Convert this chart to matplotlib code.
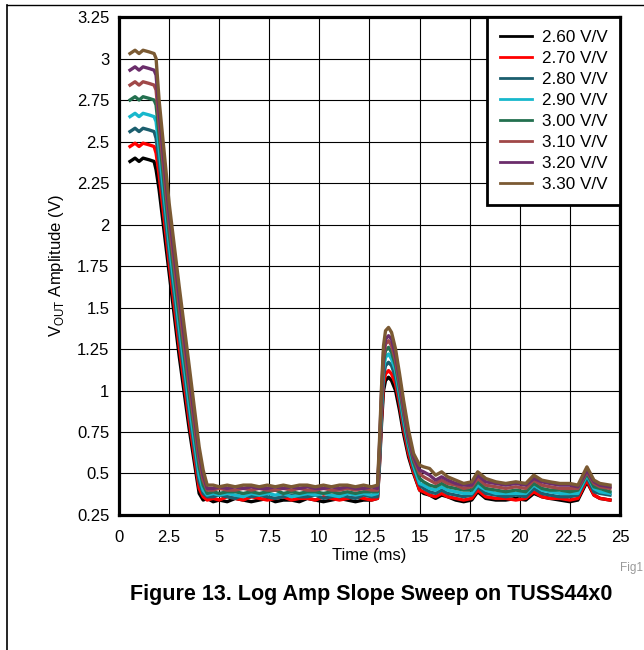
import matplotlib
matplotlib.use('Agg')
import matplotlib.pyplot as plt
from matplotlib.lines import Line2D

plt.rcParams['font.family'] = ['Liberation Sans', 'DejaVu Sans']
plt.rcParams['mathtext.fontset'] = 'custom'
plt.rcParams['mathtext.rm'] = 'Liberation Sans'

# time axis (ms)
time_ms = [0.55, 0.8, 1.0, 1.2, 1.5, 1.75, 1.85,
           2.0, 2.5, 3.0, 3.5, 4.0, 4.2, 4.4,
           4.7, 5.0, 5.4, 5.8, 6.2, 6.6, 7.0, 7.4, 7.8, 8.2, 8.6,
           9.0, 9.4, 9.8, 10.2, 10.6, 11.0, 11.4, 11.8, 12.2, 12.6, 12.9,
           13.0, 13.1, 13.2, 13.3, 13.45, 13.6, 13.8, 14.0, 14.2, 14.45, 14.7, 15.0,
           15.2, 15.5, 15.8, 16.1, 16.4, 16.8, 17.2, 17.6, 17.9, 18.3, 18.8, 19.3,
           19.8, 20.3, 20.7, 21.1, 21.5, 22.0, 22.5, 22.9, 23.35, 23.7, 24.0, 24.5]

labels = ['2.60 V/V', '2.70 V/V', '2.80 V/V', '2.90 V/V',
          '3.00 V/V', '3.10 V/V', '3.20 V/V', '3.30 V/V']
colors = ['#000000', '#FF0000', '#1B5E6E', '#17B8CC',
          '#23704F', '#A04848', '#6B2D6B', '#7B5A33']

v_260 = [2.38, 2.40, 2.38, 2.40, 2.39, 2.38, 2.33,
         2.21, 1.71, 1.21, 0.77, 0.38, 0.34, 0.35,
         0.33, 0.34, 0.33, 0.35, 0.34, 0.33, 0.34, 0.35, 0.33, 0.34, 0.34,
         0.33, 0.35, 0.34, 0.33, 0.34, 0.35, 0.34, 0.33, 0.34, 0.34, 0.35,
         0.55, 0.80, 1.00, 1.06, 1.08, 1.06, 1.00, 0.88, 0.74, 0.60, 0.50, 0.40,
         0.38, 0.37, 0.35, 0.37, 0.36, 0.34, 0.33, 0.34, 0.39, 0.35, 0.34, 0.34,
         0.35, 0.34, 0.38, 0.36, 0.35, 0.34, 0.33, 0.34, 0.45, 0.37, 0.35, 0.34]
v_270 = [2.47, 2.49, 2.47, 2.49, 2.48, 2.47, 2.43,
         2.30, 1.77, 1.27, 0.82, 0.41, 0.36, 0.34,
         0.35, 0.34, 0.36, 0.35, 0.34, 0.36, 0.35, 0.34, 0.35, 0.36, 0.34,
         0.35, 0.35, 0.34, 0.36, 0.35, 0.34, 0.35, 0.36, 0.35, 0.34, 0.35,
         0.57, 0.83, 1.04, 1.10, 1.12, 1.10, 1.04, 0.92, 0.77, 0.62, 0.51, 0.40,
         0.39, 0.37, 0.36, 0.38, 0.36, 0.35, 0.34, 0.35, 0.40, 0.36, 0.35, 0.35,
         0.34, 0.35, 0.39, 0.36, 0.35, 0.35, 0.34, 0.35, 0.46, 0.37, 0.35, 0.34]
v_280 = [2.56, 2.58, 2.56, 2.58, 2.57, 2.56, 2.52,
         2.38, 1.83, 1.33, 0.87, 0.45, 0.38, 0.36,
         0.36, 0.37, 0.36, 0.35, 0.37, 0.36, 0.37, 0.36, 0.35, 0.36, 0.37,
         0.36, 0.36, 0.37, 0.35, 0.36, 0.37, 0.36, 0.35, 0.37, 0.36, 0.36,
         0.59, 0.87, 1.09, 1.15, 1.17, 1.15, 1.08, 0.95, 0.80, 0.65, 0.53, 0.43,
         0.41, 0.39, 0.38, 0.40, 0.38, 0.37, 0.36, 0.37, 0.42, 0.38, 0.37, 0.36,
         0.37, 0.36, 0.41, 0.38, 0.37, 0.36, 0.36, 0.37, 0.48, 0.39, 0.38, 0.37]
v_290 = [2.65, 2.67, 2.65, 2.67, 2.66, 2.65, 2.62,
         2.46, 1.89, 1.39, 0.92, 0.49, 0.40, 0.37,
         0.38, 0.37, 0.38, 0.37, 0.36, 0.38, 0.37, 0.38, 0.37, 0.38, 0.36,
         0.37, 0.38, 0.37, 0.38, 0.37, 0.36, 0.38, 0.37, 0.38, 0.37, 0.38,
         0.61, 0.90, 1.13, 1.20, 1.22, 1.19, 1.12, 0.98, 0.83, 0.67, 0.55, 0.44,
         0.43, 0.41, 0.40, 0.42, 0.40, 0.39, 0.38, 0.38, 0.43, 0.40, 0.38, 0.38,
         0.38, 0.38, 0.43, 0.40, 0.39, 0.38, 0.38, 0.38, 0.49, 0.41, 0.39, 0.38]
v_300 = [2.75, 2.77, 2.75, 2.77, 2.76, 2.75, 2.72,
         2.54, 1.95, 1.45, 0.98, 0.54, 0.43, 0.38,
         0.39, 0.38, 0.39, 0.39, 0.38, 0.39, 0.38, 0.39, 0.40, 0.38, 0.39,
         0.38, 0.39, 0.39, 0.38, 0.39, 0.38, 0.39, 0.38, 0.39, 0.39, 0.39,
         0.63, 0.93, 1.17, 1.24, 1.26, 1.23, 1.15, 1.01, 0.86, 0.69, 0.57, 0.47,
         0.45, 0.43, 0.42, 0.44, 0.42, 0.41, 0.40, 0.40, 0.45, 0.41, 0.40, 0.39,
         0.40, 0.39, 0.44, 0.41, 0.40, 0.40, 0.39, 0.40, 0.50, 0.42, 0.41, 0.39]
v_310 = [2.84, 2.86, 2.84, 2.86, 2.85, 2.84, 2.81,
         2.61, 2.01, 1.51, 1.03, 0.58, 0.46, 0.40,
         0.40, 0.41, 0.40, 0.40, 0.41, 0.40, 0.41, 0.40, 0.40, 0.41, 0.40,
         0.41, 0.40, 0.40, 0.41, 0.40, 0.40, 0.41, 0.40, 0.41, 0.40, 0.40,
         0.65, 0.96, 1.20, 1.28, 1.30, 1.27, 1.18, 1.04, 0.88, 0.71, 0.59, 0.50,
         0.48, 0.46, 0.44, 0.46, 0.44, 0.43, 0.41, 0.42, 0.47, 0.43, 0.42, 0.41,
         0.42, 0.41, 0.46, 0.43, 0.42, 0.41, 0.41, 0.41, 0.51, 0.44, 0.42, 0.41]
v_320 = [2.93, 2.95, 2.93, 2.95, 2.94, 2.93, 2.90,
         2.68, 2.07, 1.57, 1.09, 0.62, 0.49, 0.41,
         0.41, 0.42, 0.41, 0.42, 0.41, 0.42, 0.41, 0.41, 0.42, 0.41, 0.42,
         0.41, 0.42, 0.41, 0.41, 0.42, 0.41, 0.42, 0.41, 0.41, 0.42, 0.41,
         0.67, 0.99, 1.23, 1.31, 1.33, 1.31, 1.21, 1.07, 0.91, 0.73, 0.60, 0.52,
         0.51, 0.49, 0.46, 0.48, 0.46, 0.44, 0.43, 0.43, 0.49, 0.45, 0.44, 0.43,
         0.44, 0.43, 0.47, 0.45, 0.44, 0.43, 0.43, 0.42, 0.52, 0.45, 0.43, 0.42]
v_330 = [3.03, 3.05, 3.03, 3.05, 3.04, 3.03, 3.00,
         2.75, 2.13, 1.63, 1.15, 0.66, 0.52, 0.43,
         0.43, 0.42, 0.43, 0.42, 0.43, 0.43, 0.42, 0.43, 0.42, 0.43, 0.42,
         0.43, 0.43, 0.42, 0.43, 0.42, 0.43, 0.43, 0.42, 0.43, 0.42, 0.43,
         0.70, 1.02, 1.27, 1.36, 1.38, 1.35, 1.25, 1.10, 0.94, 0.76, 0.62, 0.55,
         0.54, 0.53, 0.49, 0.51, 0.48, 0.46, 0.44, 0.45, 0.51, 0.47, 0.45, 0.44,
         0.45, 0.44, 0.49, 0.46, 0.45, 0.44, 0.44, 0.43, 0.54, 0.46, 0.44, 0.43]

series = [v_260, v_270, v_280, v_290, v_300, v_310, v_320, v_330]

x_ticks = [0, 2.5, 5, 7.5, 10, 12.5, 15, 17.5, 20, 22.5, 25]
y_ticks = [0.25, 0.5, 0.75, 1, 1.25, 1.5, 1.75, 2, 2.25, 2.5, 2.75, 3, 3.25]

fig = plt.figure(figsize=(6.44, 6.5), dpi=100)
ax = fig.add_axes([0.1848, 0.2077, 0.7779, 0.7661])

for vals, col, lab in zip(series, colors, labels):
    ax.plot(time_ms, vals, color=col, lw=2.4, label=lab)

ax.set_xlim(0, 25)
ax.set_ylim(0.25, 3.25)
ax.set_xticks(x_ticks)
ax.set_yticks(y_ticks)
ax.set_xticklabels(['%g' % v for v in x_ticks])
ax.set_yticklabels(['%g' % v for v in y_ticks])
ax.tick_params(length=0, labelsize=12)
ax.tick_params(axis='x', pad=11)
ax.tick_params(axis='y', pad=7)
ax.grid(True, color='black', lw=0.8)
ax.set_axisbelow(True)
for sp in ax.spines.values():
    sp.set_linewidth(2.3)

ax.set_xlabel('Time (ms)', fontsize=12, labelpad=2)
ax.set_ylabel('V$_{\\mathregular{OUT}}$ Amplitude (V)', fontsize=12, labelpad=8)

leg = ax.legend(loc='upper right', borderaxespad=0, fontsize=12.3, fancybox=False,
                framealpha=1, edgecolor='black', handlelength=1.9,
                labelspacing=0.35, borderpad=0.75, handletextpad=0.55)
leg.get_frame().set_linewidth(2.0)
for h in leg.legend_handles:
    h.set_linewidth(2.0)

# page frame lines and caption
fig.add_artist(Line2D([0.0113, 0.0113], [0, 0.992], color='black', lw=1.2))
fig.add_artist(Line2D([0.0113, 1.0], [0.992, 0.992], color='black', lw=1.0))
fig.text(0.998, 0.126, 'Fig1', fontsize=8.5, color='#999999', ha='right', va='center')
fig.text(0.577, 0.085, 'Figure 13. Log Amp Slope Sweep on TUSS44x0',
         fontsize=15.5, fontweight='bold', ha='center', va='center')

fig.savefig('out.png', dpi=100)
